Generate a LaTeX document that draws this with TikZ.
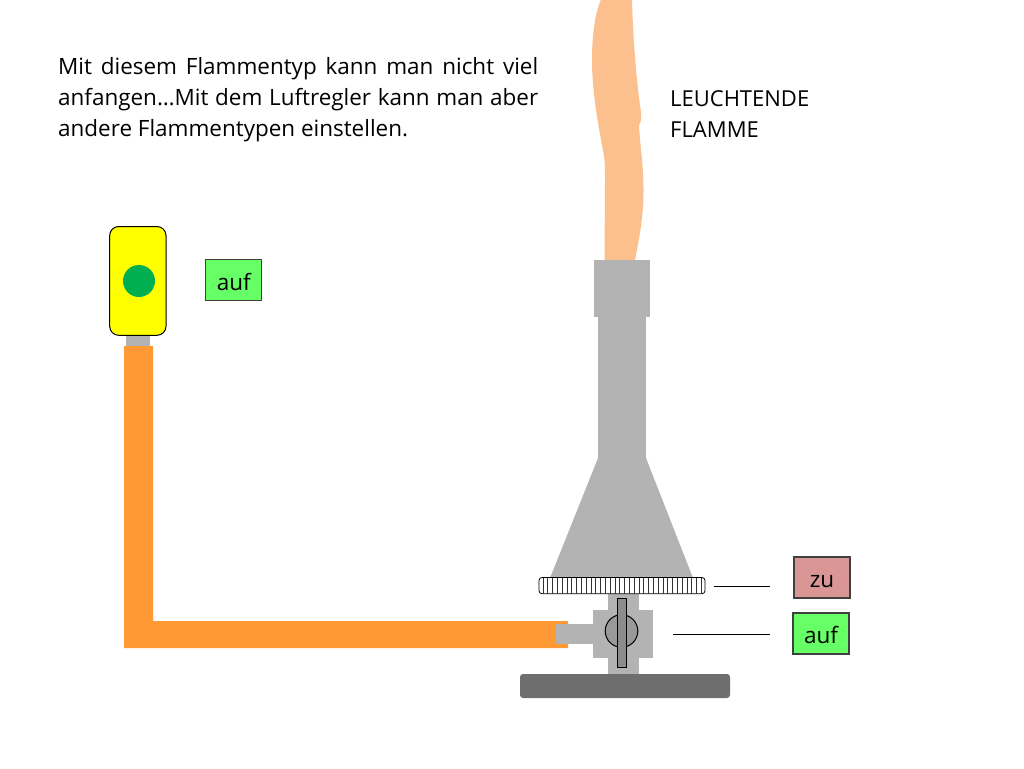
\documentclass[tikz,border=0pt]{standalone}
\usepackage{fontspec}
\setmainfont{Open Sans}
\definecolor{burner}{HTML}{B3B3B3}
\definecolor{baseg}{HTML}{6E6E6E}
\definecolor{hose}{HTML}{FF9933}
\definecolor{flame}{HTML}{FBC08E}
\definecolor{green1}{HTML}{66FF66}
\definecolor{red1}{HTML}{D99694}
\definecolor{dot}{HTML}{00B050}
\definecolor{cartridge}{HTML}{FFFF00}
\tikzset{
  tag/.style={draw=black!75,line width=1.2pt,minimum width=56pt,minimum height=41pt,inner sep=0pt,text height=20pt,text depth=0pt,font=\fontsize{22.5}{26}\selectfont,text=black},
  part/.style={fill=burner,draw=none},
  label/.style={font=\fontsize{22}{31}\selectfont,text=black,inner sep=0pt,anchor=north west},
  leader/.style={draw=black,line width=1.1pt}
}
\begin{document}
\begin{tikzpicture}[x=1pt,y=-1pt]
\useasboundingbox (0,0) rectangle (1024,768);
% flame
\fill[flame] (600.7,0) .. controls (596,12) and (592,30) .. (592,60)
  .. controls (592,85) and (596,115) .. (603,150)
  .. controls (605,160) and (605,170) .. (605,180)
  -- (604.5,260) -- (635,260)
  .. controls (640,235) and (643.5,215) .. (643.5,190)
  .. controls (643.5,165) and (640,145) .. (639,125)
  .. controls (641.5,121) and (642,118) .. (640,105)
  .. controls (637,85) and (633,40) .. (632,0) -- cycle;
% hose
\fill[part] (126,335) rectangle (150,347);
\fill[hose] (124,346) -- (153,346) -- (153,621) -- (568,621) -- (568,648) -- (124,648) -- cycle;
% burner
\fill[part] (598,458) -- (646,458) -- (693,578) -- (550,578) -- cycle;
\fill[part] (598,316) rectangle (646,459);
\fill[part] (594,260) rectangle (650,317);
\fill[part] (608,594) rectangle (639,675);
\fill[part] (593.3,610) rectangle (653.3,658);
\fill[part] (556,624) rectangle (594,644);
\fill[baseg,rounded corners=3pt] (520,674) rectangle (730,698);
% knurled ring
\draw[black,line width=.8pt,fill=white,rounded corners=3pt] (539,577.5) rectangle (705,593.7);
\foreach \i in {0,...,33} \draw[black!80,line width=.8pt] ({543+\i*4.8},577.5) -- ({543+\i*4.8},593.7);
% valve
\draw[fill=black!40,line width=1pt] (621.5,631) circle (16.3);
\draw[fill=black!45,line width=1pt] (617.7,598.3) rectangle (626.3,667);
% cartridge
\draw[fill=cartridge,line width=1pt,rounded corners=9pt] (109.7,226.5) rectangle (166,335.3);
\fill[dot] (139,281) circle (16);
% labels
\node[tag,fill=green1] (aufA) at (233.8,280.3) {auf};
\node[tag,fill=red1] (zu) at (822,577.5) {zu};
\node[tag,fill=green1] (aufB) at (821,633.5) {auf};
\coordinate (zuS) at (714,586.5);
\coordinate (zuE) at (770,586.5);
\coordinate (aufS) at (673,634.5);
\coordinate (aufE) at (770,634.5);
\draw[leader] (zuS) -- (zuE);
\draw[leader] (aufS) -- (aufE);
\node[label,align=left] (flammeT) at (670,90) {LEUCHTENDE\\FLAMME};
\node[label,font=\fontsize{22.45}{31}\selectfont,text width=480pt,align=justify] (info) at (58,57) {Mit diesem Flammentyp kann man nicht viel\linebreak anfangen…Mit dem Luftregler kann man aber\linebreak andere Flammentypen einstellen.};
\end{tikzpicture}
\end{document}
